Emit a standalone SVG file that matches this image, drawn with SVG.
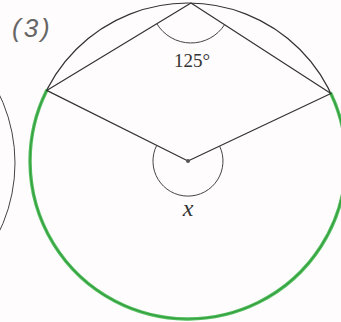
<svg xmlns="http://www.w3.org/2000/svg" width="341" height="322" viewBox="0 0 341 322">
<style>
.ln{fill:none;stroke:#333;stroke-width:1.2;stroke-linecap:round;stroke-linejoin:round}
.thin{fill:none;stroke:#444;stroke-width:1}
.grn{fill:none;stroke:#33b23f;stroke-width:3.4;stroke-linecap:round;stroke-opacity:0.85}
.lbl{font-family:"Liberation Serif","Times New Roman",serif;fill:#333}
</style>
<rect width="341" height="322" fill="#fefcfc"/>
<g id="label-3"><text x="12" y="37" font-family="Liberation Sans, Arial, sans-serif" font-style="italic" font-size="26" fill="#666" letter-spacing="3">(3)</text></g>
<g id="neighbor-circle"><circle cx="-143" cy="163" r="158" class="thin"/></g>
<g id="circle"><circle cx="188" cy="161" r="158" class="ln"/></g>
<g id="highlight"><path class="grn" d="M46.7 90.4 A158 158 0 1 0 330.9 93.5"/></g>
<g id="connectors">
<path class="ln" d="M46.7 90.4 L191 3 L330.9 93.5"/>
<path class="ln" d="M46.7 90.4 L188 161 L330.9 93.5"/>
</g>
<g id="angle-top">
<path class="thin" d="M156.8 23.7 A40 40 0 0 0 224.6 24.7"/>
<text class="lbl" x="192" y="67" font-size="19" text-anchor="middle">125°</text>
</g>
<g id="angle-center">
<path class="thin" d="M156.7 145.4 A35 35 0 1 0 219.6 146.1"/>
<circle cx="188" cy="161" r="2" fill="#555"/>
<text class="lbl" x="188" y="216" font-size="24" font-style="italic" text-anchor="middle">x</text>
</g>
</svg>
